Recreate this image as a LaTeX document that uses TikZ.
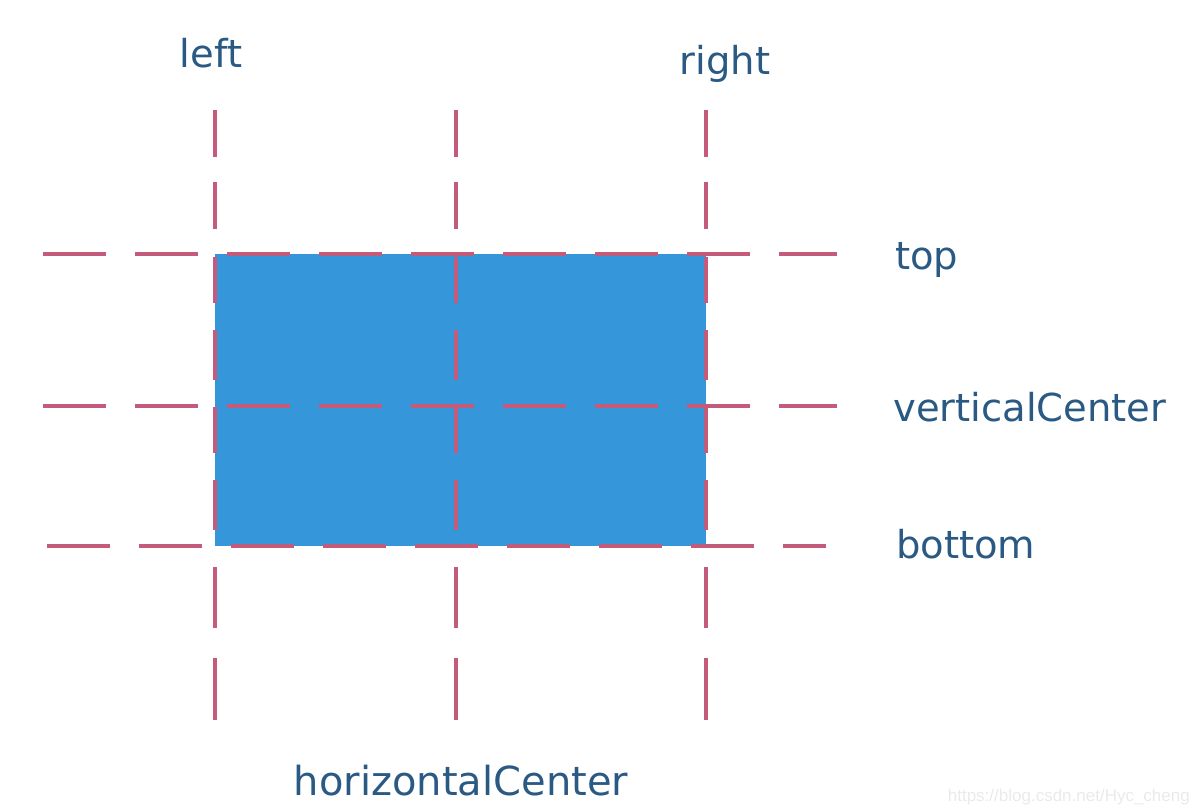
\documentclass[tikz,border=0pt]{standalone}
\usepackage{fontspec}
\setmainfont{DejaVu Sans}
\newfontfamily\wmfont{Liberation Sans}
\definecolor{guide}{HTML}{C45B7B}
\definecolor{boxblue}{HTML}{3597DA}
\definecolor{labelblue}{HTML}{2A5A84}
\definecolor{wmgray}{HTML}{EAEAEA}
\begin{document}
\begin{tikzpicture}[x=1pt,y=-1pt,
  hguide/.style={draw=guide,line width=4.8pt,dash pattern=on 63pt off 29pt},
  vguide/.style={draw=guide,line width=4.8pt,
    dash pattern=on 47pt off 25pt on 47pt off 28pt on 46pt off 27pt on 50pt off 27pt on 46pt off 27pt on 50pt off 37pt on 61pt off 30pt on 62pt off 30pt},
  lbl/.style={text=labelblue,font=\fontsize{38.5}{46}\selectfont,inner sep=0pt}]
\useasboundingbox (0,0) rectangle (1200,811);
% box
\fill[boxblue] (215,254) rectangle (706,546);
% coordinates
\coordinate (ht1) at (43,254);  \coordinate (ht2) at (837,254);
\coordinate (hm1) at (43,406);  \coordinate (hm2) at (837,406);
\coordinate (hb1) at (47,546);  \coordinate (hb2) at (826,546);
\coordinate (vl1) at (215,110); \coordinate (vl2) at (215,720);
\coordinate (vc1) at (456,110); \coordinate (vc2) at (456,722);
\coordinate (vr1) at (706,110); \coordinate (vr2) at (706,720);
% guides
\draw[hguide] (ht1) -- (ht2);
\draw[hguide] (hm1) -- (hm2);
\draw[hguide] (hb1) -- (hb2);
\draw[vguide] (vl1) -- (vl2);
\draw[vguide] (vc1) -- (vc2);
\draw[vguide] (vr1) -- (vr2);
% labels
\node[lbl,anchor=base] (left) at (211,67) {left};
\node[lbl,anchor=base] (right) at (725,74) {right};
\node[lbl,anchor=base west] (top) at (895,269) {top};
\node[lbl,anchor=base west] (vcenter) at (893,421) {verticalCenter};
\node[lbl,anchor=base west] (bottom) at (896,558) {bottom};
\node[lbl,font=\fontsize{40}{48}\selectfont,anchor=base] (hcenter) at (461,795) {horizontalCenter};
\node[text=wmgray,font=\wmfont\fontsize{17}{20}\selectfont,anchor=base east,inner sep=0pt] (wm) at (1190,801) {https://blog.csdn.net/Hyc\_cheng};
\end{tikzpicture}
\end{document}
